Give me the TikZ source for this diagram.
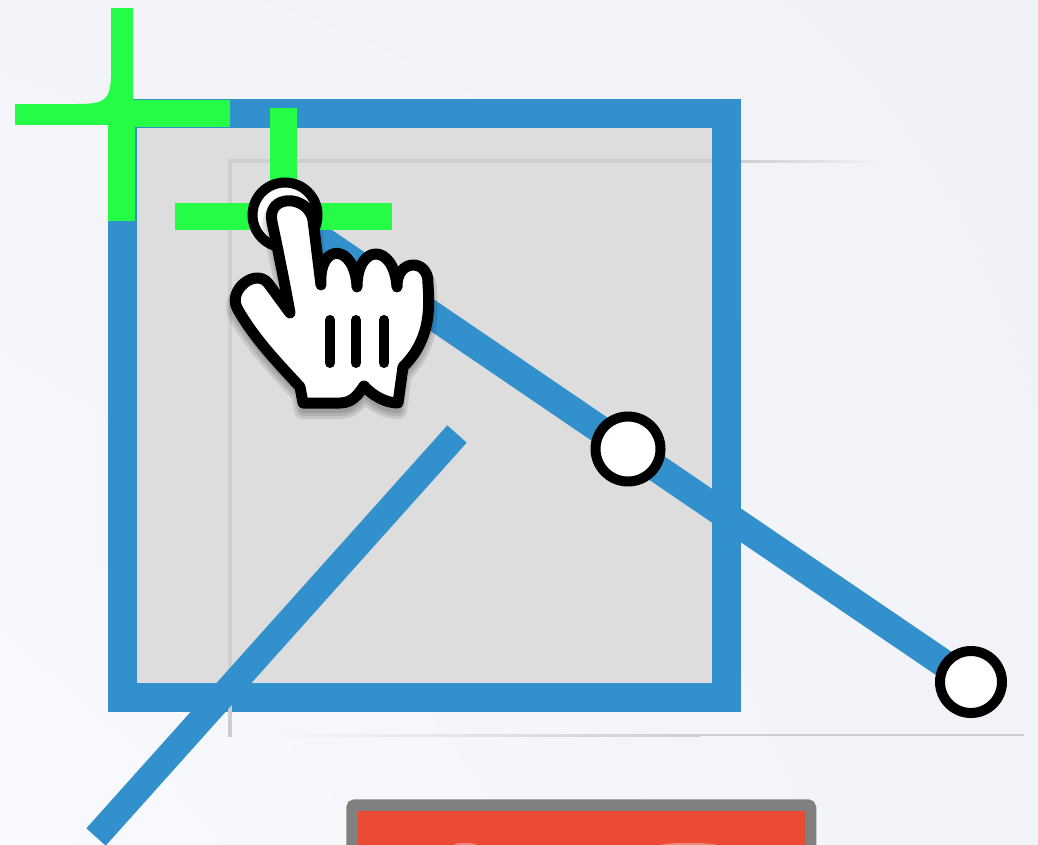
\documentclass[tikz,border=0pt]{standalone}
\usepackage{tikz}
\usetikzlibrary{positioning, calc, backgrounds, shadings}
\definecolor{pagebgtl}{RGB}{242,244,248}
\definecolor{pagebgbl}{RGB}{249,250,254}
\definecolor{pagebgtr}{RGB}{240,242,246}
\definecolor{pagebgbr}{RGB}{241,243,248}
\definecolor{framegray}{RGB}{221,221,221}
\definecolor{guidegray}{RGB}{206,206,208}
\definecolor{pathblue}{RGB}{50,145,205}
\definecolor{guidegreen}{RGB}{36,252,70}
\definecolor{alertred}{RGB}{235,75,51}
\tikzset{
	pathline/.style={draw=pathblue, line width=28pt},
	handleline/.style={draw=pathblue, line width=26pt},
	greenbar/.style={fill=guidegreen, draw=none},
	anchordot/.style={circle, draw=black, fill=white, line width=10pt, minimum size=65pt, inner sep=0pt}
}
\begin{document}
\begin{tikzpicture}[x=1pt, y=-1pt]
      \useasboundingbox (0,0) rectangle (1038,845);
      \shade[upper left=pagebgtl, upper right=pagebgtr, lower left=pagebgbl, lower right=pagebgbr] (0,0) rectangle (1038,845);
      % artboard
      \draw[pathblue, fill=framegray, line width=29pt, miter limit=10] (122.5,114) rectangle (726.5,697.5);
      % page guides
      \fill[guidegray] (228,159) rectangle (232,737);
      \fill[guidegray] (228,159) rectangle (712,163);
      \fill[left color=guidegray, right color=pagebgtr] (741,160.5) rectangle (880,162.5);
      \fill[left color=pagebgbl, right color=guidegray] (232,734) rectangle (700,736);
      \fill[guidegray] (700,734) rectangle (1024,736);
      % anchor points
      \coordinate (cornerpt) at (285,215);
      \coordinate (midpt) at (628,449);
      \coordinate (endpt) at (971,682);
      \coordinate (handlea) at (457,434);
      \coordinate (handleb) at (96,837);
      \draw[handleline] (handlea) -- (handleb);
      \draw[pathline] (cornerpt) -- (endpt);
      % green crosses
      \fill[greenbar] (15,104) rectangle (133,125);
      \fill[greenbar] (133,100) rectangle (230,127);
      \fill[greenbar] (111,8) rectangle (133,104);
      \fill[greenbar] (108,125) rectangle (135,221);
      \fill[greenbar] (77,104) .. controls (105,104) and (110,100) .. (111,77) -- (111,104) -- cycle;
      \fill[greenbar] (175,203) rectangle (392,230);
      \fill[greenbar] (270,108) rectangle (297,215);
      \node[anchordot] (cornerdot) at (cornerpt) {};
      \node[anchordot] (middot) at (midpt) {};
      \node[anchordot, minimum width=60pt, minimum height=62pt] (enddot) at (endpt) {};
      % hand cursor
      \def\handpath{(290,313) .. controls (285,285) and (278,250) .. (272,222)
        .. controls (266,194) and (308,194) .. (313,220)
        -- (321,285) .. controls (318,242) and (355,243) .. (357,287)
        .. controls (357,243) and (394,243) .. (397,287)
        .. controls (396,258) and (430,258) .. (428,285)
        .. controls (431,320) and (425,345) .. (403,367)
        -- (398,403) .. controls (385,403) and (372,395) .. (364,386)
        .. controls (358,395) and (352,403) .. (340,403)
        -- (303,403) -- (300,387)
        .. controls (280,365) and (255,340) .. (237,308)
        .. controls (228,290) and (255,268) .. (268,283)
        -- cycle}
      \foreach \spread in {18,12,6} {
        \draw[black, opacity=0.1, fill opacity=0.1, line width=\spread pt, line join=round, yshift=-7pt] \handpath;
      }
      \draw[black, fill=white, line width=11pt, line join=round] \handpath;
      \foreach \xpos in {330,356,384} {
        \draw[black, line width=10pt, line cap=round] (\xpos,320) -- (\xpos,363);
      }
      % red box
      \draw[fill=alertred, draw=gray, line width=11.5pt, rounded corners=3pt] (352,805) rectangle (810.5,870);
      \fill[white, opacity=0.35] (453,845) .. controls (458,842) and (472,842) .. (477,845) -- cycle;
      \fill[white, opacity=0.35] (660,845) .. controls (670,842) and (707,842) .. (717,845) -- cycle;
\end{tikzpicture}
\end{document}
